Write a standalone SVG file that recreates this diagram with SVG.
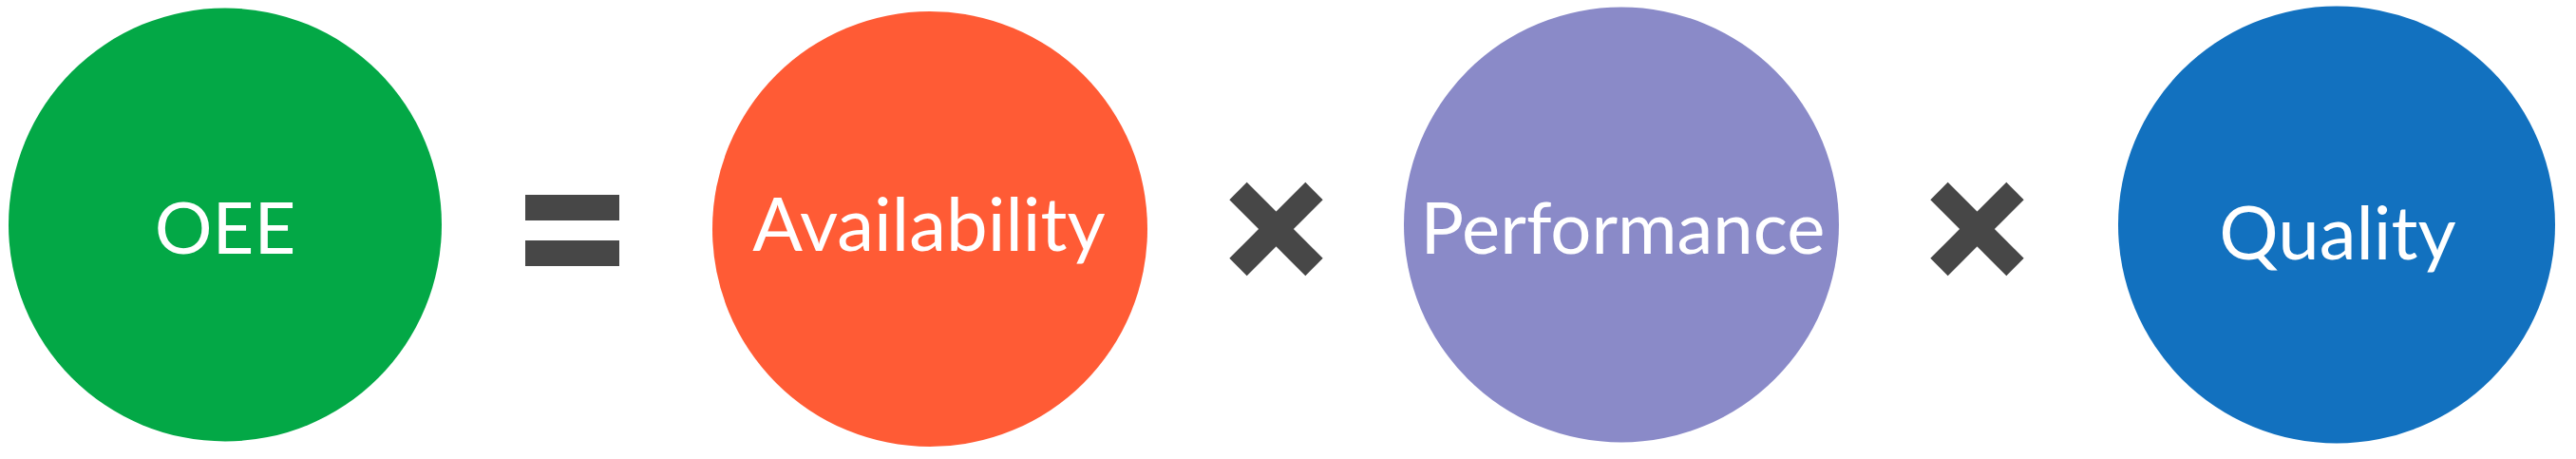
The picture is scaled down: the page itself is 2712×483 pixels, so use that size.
<svg xmlns="http://www.w3.org/2000/svg" width="2712" height="483" viewBox="0 0 2712 483">
<style>
.lbl{font-family:Lato,"Open Sans","Liberation Sans",sans-serif;fill:#fff;text-anchor:middle;font-size:76px}
.op{fill:#474747}
.x{stroke:#474747;stroke-width:26;stroke-linecap:butt}
</style>
<rect width="2712" height="483" fill="#fff"/>
<g id="oee">
<circle cx="237" cy="236.5" r="228" fill="#03A846"/>
<text class="lbl" x="237" y="267">OEE</text>
</g>
<g id="availability">
<circle cx="979" cy="241" r="229" fill="#FF5B35"/>
<text class="lbl" x="978" y="264" font-size="78" style="font-size:78px">Availability</text>
</g>
<g id="performance">
<circle cx="1707" cy="236.5" r="229" fill="#8A8AC8"/>
<text class="lbl" x="1708.5" y="267">Performance</text>
</g>
<g id="quality">
<circle cx="2460" cy="236.5" r="230" fill="#1271BF"/>
<text class="lbl" x="2461" y="273" style="font-size:78px">Quality</text>
</g>
<g id="connectors">
<rect class="op" x="553" y="205" width="99" height="27"/>
<rect class="op" x="553" y="253" width="99" height="27"/>
<line class="x" x1="1303.5" y1="201" x2="1383.5" y2="281"/>
<line class="x" x1="1383.5" y1="201" x2="1303.5" y2="281"/>
<line class="x" x1="2041.5" y1="201" x2="2121.5" y2="281"/>
<line class="x" x1="2121.5" y1="201" x2="2041.5" y2="281"/>
</g>
</svg>
